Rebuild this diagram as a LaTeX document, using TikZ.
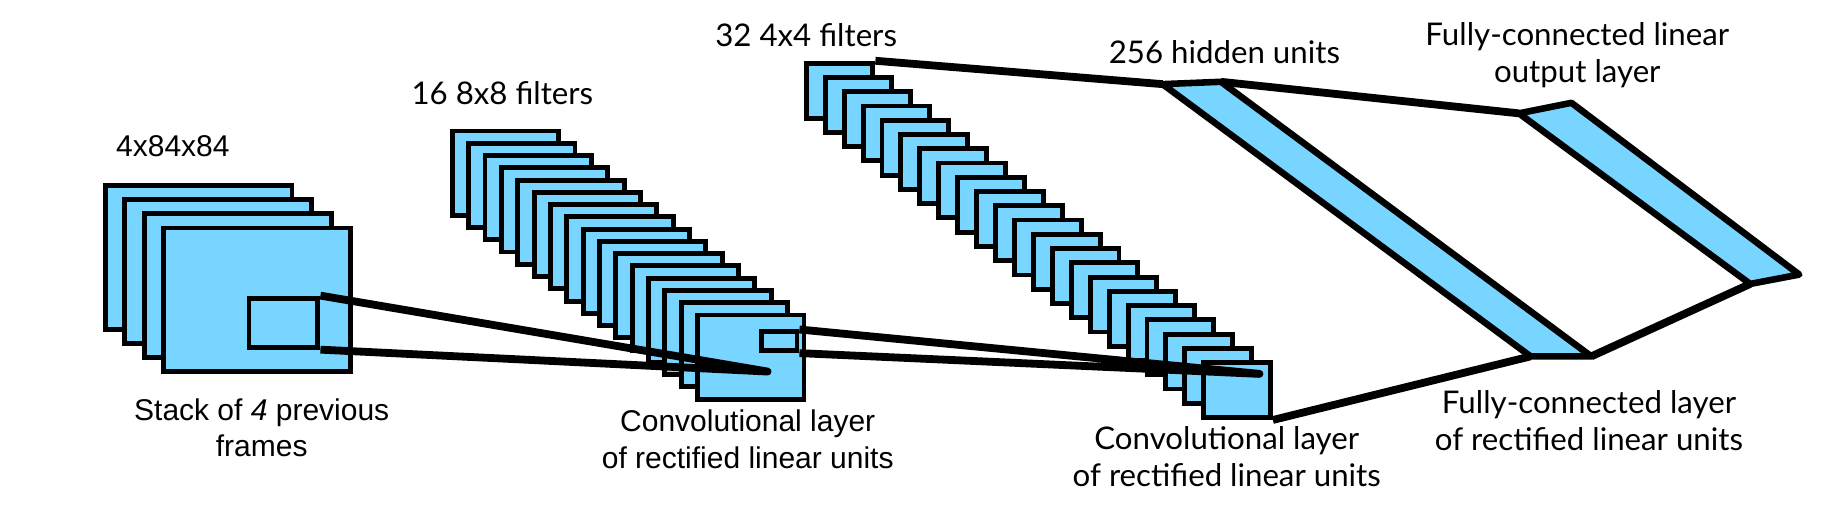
\documentclass[tikz,border=0pt]{standalone}
\usepackage{fontspec}
\setmainfont{Liberation Sans}
\newfontfamily\latofont{Lato}
\usetikzlibrary{positioning}
\definecolor{mapblue}{HTML}{78D5FF}
\begin{document}
\begin{tikzpicture}[
		x=0.01cm,y=-0.01cm,
		frame/.style={
			draw,
			fill=mapblue,
			line width=1.2pt,
			anchor=north west,
			inner sep=0pt,
		},
		link/.style={
			line width=1.9pt,
			line join=round,
		},
		lbl/.style={
			font=\fontsize{7.3}{8.8}\selectfont,
			align=center,
		},
		lbll/.style={
			font=\latofont\fontsize{7.6}{9}\selectfont,
			align=center,
		},
		]
		\useasboundingbox (0,0) rectangle (1568,438);
		
		% input stack
		\foreach \k in {0,...,3}
		\node[frame,minimum width=4.5cm*0.355,minimum height=3.45cm*0.355] (in\k) at (88+16.7*\k,157+12*\k) {};
		\node[frame,minimum width=0.59cm,minimum height=0.42cm] (inwin) at (211,253) {};
		
		% first convolution
		\foreach \k in {0,...,15}
		\node[frame,minimum width=0.91cm,minimum height=0.72cm] (ca\k) at (385+14*\k,110+10.5*\k) {};
		\node[frame,minimum width=0.30cm,minimum height=0.16cm] (cawin) at (650,282) {};
		
		% second convolution
		\foreach \k in {0,...,21}
		\node[frame,minimum width=0.57cm,minimum height=0.47cm] (cb\k) at (688+16.2*\k,52+12.2*\k) {};
		
		% fully connected layers
		\coordinate (h1) at (995,72);
		\coordinate (h2) at (1045,70);
		\coordinate (h3) at (1362,305);
		\coordinate (h4) at (1310,305);
		\coordinate (o1) at (1300,97);
		\coordinate (o2) at (1345,88);
		\coordinate (o3) at (1540,235);
		\coordinate (o4) at (1498,243);
		\draw[fill=mapblue,line width=1.6pt,line join=round] (h1) -- (h2) -- (h3) -- (h4) -- cycle;
		\draw[fill=mapblue,line width=1.6pt,line join=round] (o1) -- (o2) -- (o3) -- (o4) -- cycle;
		
		% receptive fields
		\coordinate (caend) at (657,318);
		\coordinate (cbend) at (1078,320);
		\draw[link] (inwin.north east) -- (caend) -- (inwin.south east);
		\draw[link] (cawin.north east) -- (cbend) -- (cawin.south east);
		\draw[link] (cb0.north east) -- (h1);
		\draw[link] (cb21.south east) -- (h4);
		\draw[link] (h2) -- (o1);
		\draw[link] (h3) -- (o4);
		
		% labels
		\node[lbl] (tin) at (148,125) {4x84x84};
		\node[lbll] (tca) at (430,80) {16 8x8 filters};
		\node[lbll] (tcb) at (690,30) {32 4x4 filters};
		\node[lbll] (th) at (1048,45) {256 hidden units};
		\node[lbll] (to) at (1350,47) {Fully-connected linear\\output layer};
		\node[lbl] (bin) at (224,366) {Stack of \emph{4} previous\\frames};
		\node[lbl] (bca) at (640,376) {Convolutional layer\\of rectified linear units};
		\node[lbll] (bcb) at (1050,391) {Convolutional layer\\of rectified linear units};
		\node[lbll] (bh) at (1360,360) {Fully-connected layer\\of rectified linear units};
\end{tikzpicture}
\end{document}
